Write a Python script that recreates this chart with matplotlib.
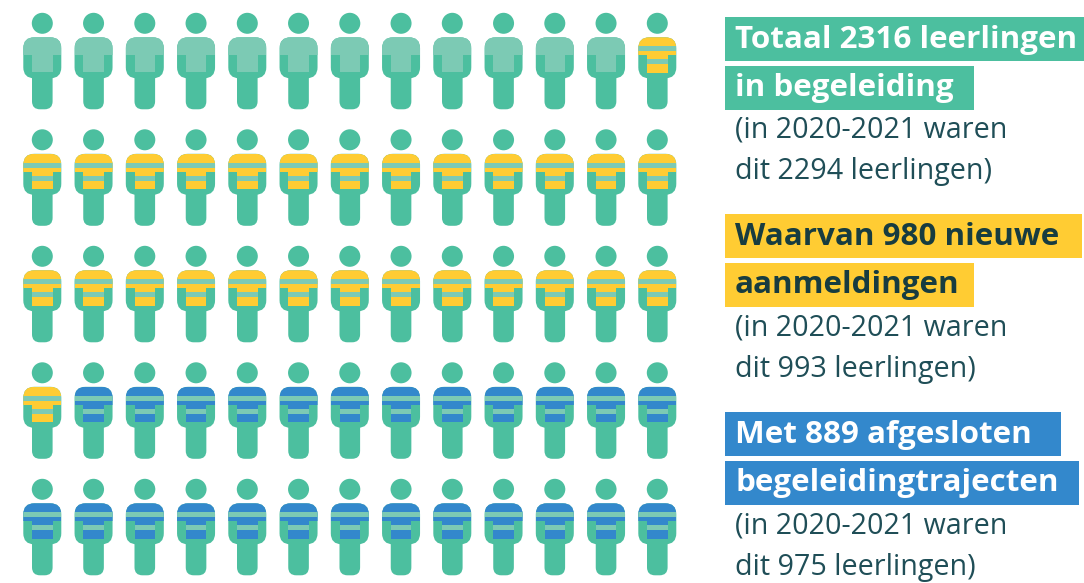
import matplotlib
matplotlib.use("Agg")
import matplotlib.pyplot as plt
from matplotlib.patches import Circle, FancyBboxPatch, Rectangle

# Number of pupils icons per category, read row by row
categories = ["totaal", "nieuw", "afgesloten"]
icon_counts = [12, 28, 25]
n_cols = 13

# Text blocks on the right
headings = [
    ["Totaal 2316 leerlingen", "in begeleiding"],
    ["Waarvan 980 nieuwe", "aanmeldingen"],
    ["Met 889 afgesloten", "begeleidingtrajecten"],
]
notes = [
    ["(in 2020-2021 waren", "dit 2294 leerlingen)"],
    ["(in 2020-2021 waren", "dit 993 leerlingen)"],
    ["(in 2020-2021 waren", "dit 975 leerlingen)"],
]

GREEN = "#4cbf9f"
LIGHT = "#7ccab4"
YELLOW = "#ffcc33"
BLUE = "#3388cc"
DARK = "#1f4e57"
DARK_HEAD = "#173c40"

# Layout in pixels
col_step = 51.25
row_step = 116.5
x0 = 42.3
y0 = 23.3

heading_widths = [[359, 249], [357, 249], [336, 354]]
block_tops = [17, 214, 412]

fig = plt.figure(figsize=(10.84, 5.83), dpi=100)
ax = fig.add_axes([0, 0, 1, 1])
ax.set_xlim(0, 1084)
ax.set_ylim(583, 0)
ax.axis("off")


def rounded(x, y, w, h, r, color):
    p = FancyBboxPatch((x + r, y + r), w - 2 * r, h - 2 * r,
                       boxstyle="round,pad=%s,rounding_size=%s" % (r, r),
                       fc=color, ec="none", lw=0)
    ax.add_patch(p)
    return p


def draw_person(cx, top, category):
    # head, legs and body
    ax.add_patch(Circle((cx, top), 10.5, fc=GREEN, ec="none"))
    rounded(cx - 10.3, top + 30, 20.6, 56, 8, GREEN)
    body = rounded(cx - 19, top + 14, 38, 41, 11, GREEN)

    if category == "totaal":
        parts = [(-19, 14, 38, 18, LIGHT), (-10.3, 32, 20.6, 17, LIGHT)]
    else:
        col = YELLOW if category == "nieuw" else BLUE
        parts = [(-19, 14, 38, 18, col), (-10.3, 32, 20.6, 17.5, col),
                 (-19, 23, 38, 5, LIGHT), (-10.3, 36, 20.6, 5, LIGHT)]
    for dx, dy, w, h, c in parts:
        r = Rectangle((cx + dx, top + dy), w, h, fc=c, ec="none")
        ax.add_patch(r)
        r.set_clip_path(body)


# Icon grid
labels = []
for cat, n in zip(categories, icon_counts):
    labels += [cat] * n
for i, cat in enumerate(labels):
    row, col = divmod(i, n_cols)
    draw_person(x0 + col * col_step, y0 + row * row_step, cat)

# Text column
fills = [GREEN, YELLOW, BLUE]
head_colors = ["white", DARK_HEAD, "white"]
for k in range(3):
    top = block_tops[k]
    for j, line in enumerate(headings[k]):
        ax.add_patch(Rectangle((725, top + j * 48.5), heading_widths[k][j], 44,
                               fc=fills[k], ec="none"))
        ax.text(735, top + 31 + j * 48, line, fontsize=22.6, fontweight="bold",
                family="Open Sans", color=head_colors[k], va="baseline")
    for j, line in enumerate(notes[k]):
        ax.text(735, top + 121 + j * 41.5, line, fontsize=20.6,
                family="Open Sans", color=DARK, va="baseline")

fig.savefig("out.png", dpi=100)
